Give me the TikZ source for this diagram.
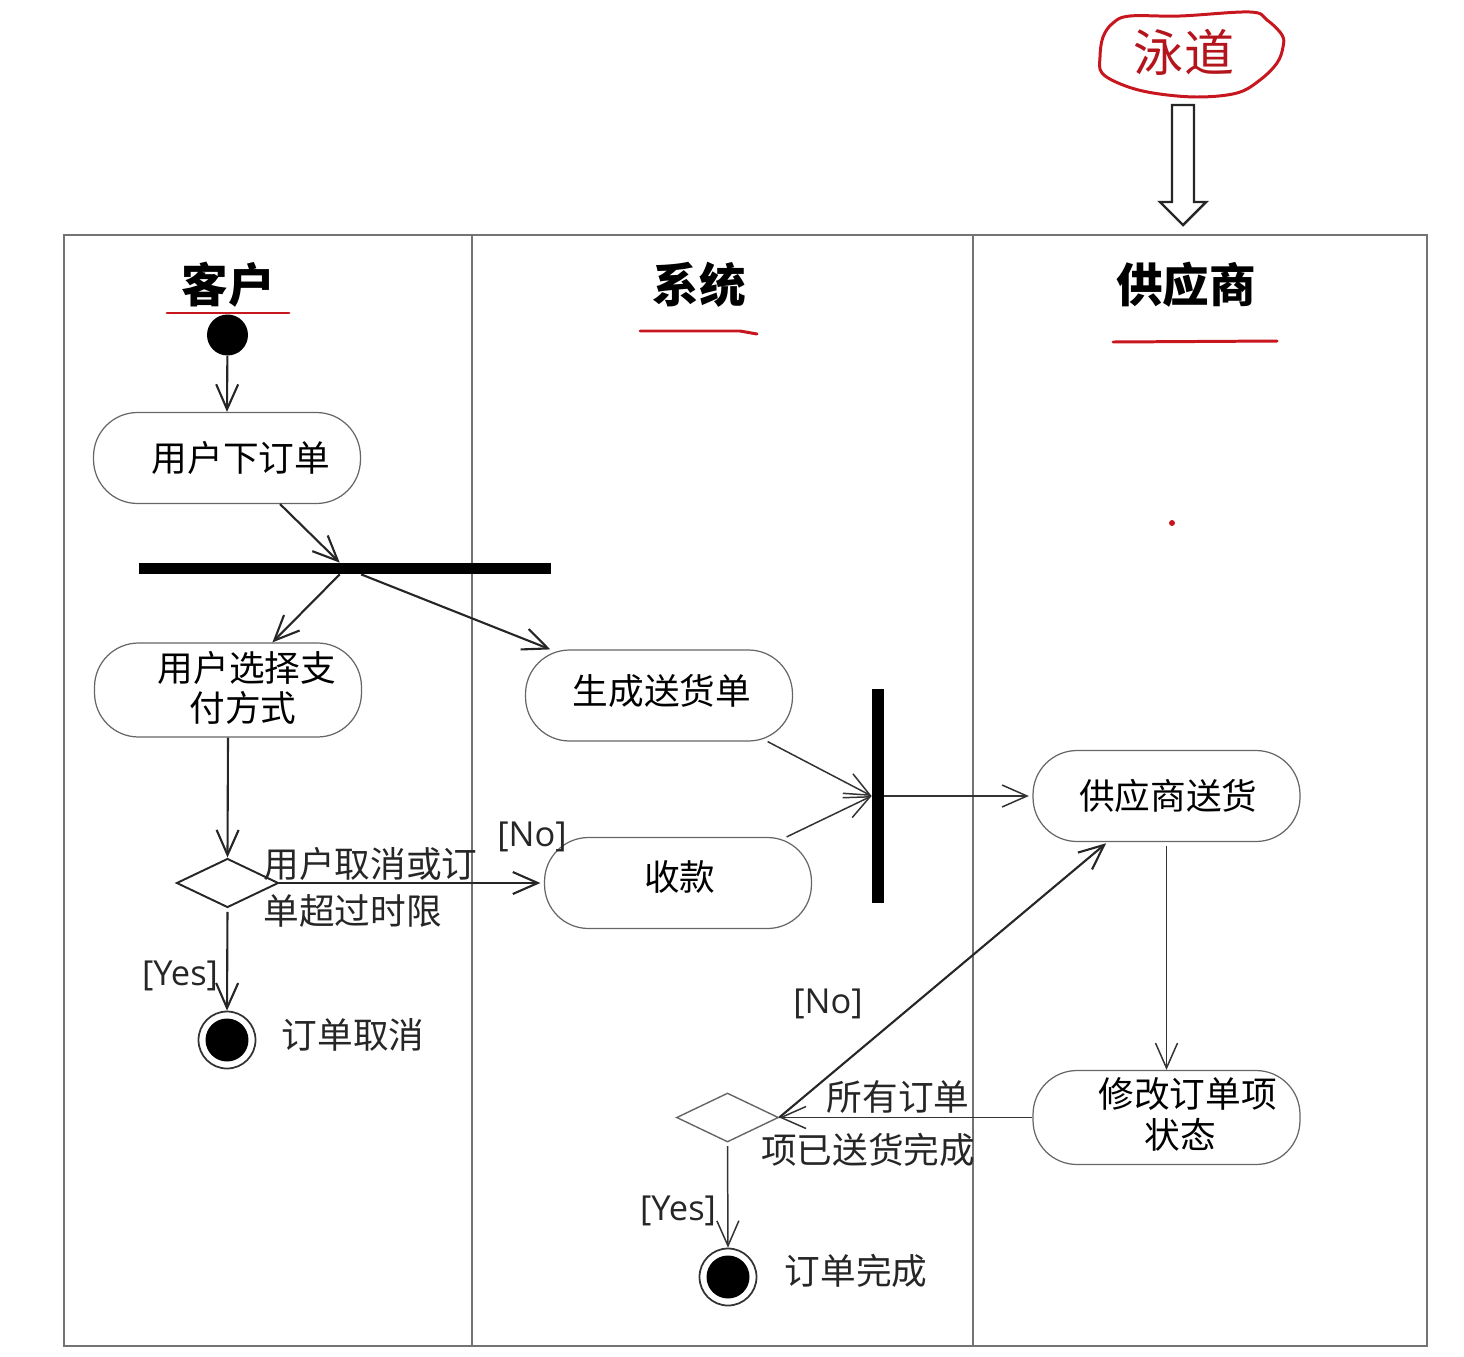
\documentclass[tikz,border=0pt]{standalone}
\usepackage{fontspec}
\setmainfont{Open Sans}
\newfontfamily\cjk{Noto Sans CJK SC}
\usetikzlibrary{arrows.meta,shapes.geometric}
\definecolor{inkred}{HTML}{C8161E}
\tikzset{
  flow/.style={draw=black!85,line width=1.2pt,-{Straight Barb[length=5mm,width=4.4mm]}},
  thinflow/.style={flow,draw=black!80,line width=0.85pt},
  activity/.style={draw=black!60,line width=0.7pt,rounded corners=0.88cm,align=center,
    inner sep=0pt,minimum width=5.34cm,minimum height=1.82cm,
    font=\cjk\fontsize{20.3}{23.2}\selectfont},
  decision/.style={diamond,draw=black!85,line width=1.1pt,inner sep=0pt,
    minimum width=2.04cm,minimum height=0.98cm},
  syncbar/.style={fill=black,inner sep=0pt},
  startdot/.style={circle,fill=black,inner sep=0pt,minimum size=0.82cm},
  enddot/.style={circle,draw=black!80,line width=1pt,fill=white,inner sep=0pt,minimum size=1.14cm,
    path picture={\fill[black] (path picture bounding box.center) circle (0.43cm);}},
  lanehead/.style={inner sep=0pt,font=\cjk\bfseries\fontsize{26.5}{29}\selectfont},
  note/.style={inner sep=0pt,align=left,text=black!85,font=\cjk\fontsize{20.3}{26.6}\selectfont},
  guard/.style={inner sep=0pt,text=black!85,font=\fontsize{19.6}{22}\selectfont},
  redline/.style={draw=inkred,line width=1.7pt,line cap=round}
}
\begin{document}
\begin{tikzpicture}[x=0.02cm,y=-0.02cm]
  \useasboundingbox (0,0) rectangle (1464,1356);
  % Swimlane frame
  \draw[black!55,line width=1.1pt] (64,235) rectangle (1427,1346);
  \draw[black!55,line width=1.1pt] (472,235) -- (472,1346);
  \draw[black!55,line width=1.1pt] (973,235) -- (973,1346);
  % Lane heads
  \node[lanehead] (customer) at (228,285) {客户};
  \node[lanehead] (system) at (699,285) {系统};
  \node[lanehead] (vendor) at (1186,285) {供应商};
  \draw[redline] (167,313) -- (289,313);
  \draw[redline] (640,331) -- (740,331) -- (757,334);
  \draw[redline] (1113,342) -- (1277,341);
  \fill[inkred] (1172,523) circle[radius=1.7pt];
  % Red tag with hollow arrow
  \draw[redline] plot[smooth cycle,tension=0.6] coordinates {(1100,57) (1103,37) (1113,23) (1130,16)
    (1180,16) (1250,12) (1267,20) (1282,35) (1283,47) (1277,63) (1260,80) (1237,93)
    (1197,97) (1153,93) (1123,85) (1102,73)};
  \node[inner sep=0pt,text=inkred!90!black,font=\cjk\fontsize{28.5}{30}\selectfont] (tag) at (1184,52) {泳道};
  \draw[black!85,line width=1.4pt,fill=white] (1172,105) -- (1194,105) -- (1194,202) -- (1206,202)
    -- (1183,225) -- (1160,202) -- (1172,202) -- cycle;
  % Customer lane
  \node[startdot] (start) at (227.5,335) {};
  \node[activity] (order) at (227,458) {\hspace*{16pt}用户下订单};
  \node[syncbar,minimum width=8.24cm,minimum height=0.22cm] (fork) at (345,568.5) {};
  \node[activity,minimum height=1.88cm,text depth=4pt] (pay) at (228,690) {\hspace*{21.5pt}用户选择支\\\hspace*{17pt}付方式};
  \node[decision] (decide) at (227.5,883) {};
  \node[enddot] (cancel) at (227,1040) {};
  \node[note,anchor=west] (timeout) at (263,887) {用户取消或订\\单超过时限};
  \node[guard] (yesA) at (180,976) {[Yes]};
  \node[note] (cancelled) at (353,1035) {订单取消};
  % System lane
  \node[activity,text depth=7pt] (shipnote) at (659,695.5) {\hspace*{3.4pt}生成送货单};
  \node[activity,text depth=8pt] (collect) at (678,883) {\hspace*{2pt}收款};
  \node[syncbar,minimum width=0.24cm,minimum height=4.28cm] (join) at (878,796) {};
  \node[guard] (noA) at (532,837) {[No]};
  \node[decision,draw=black!60,line width=0.8pt] (merge) at (727.5,1117.5) {};
  \node[enddot] (finish) at (728,1277) {};
  \node[guard] (noB) at (828,1004) {[No]};
  \node[guard] (yesB) at (678,1211) {[Yes]};
  \node[note] (allA) at (898,1097) {所有订单};
  \node[note] (allB) at (868,1150) {项已送货完成};
  \node[note] (finished) at (856,1271) {订单完成};
  % Vendor lane
  \node[activity] (supply) at (1166.5,796) {\hspace*{2pt}供应商送货};
  \node[activity,minimum height=1.88cm,text depth=5pt] (modify) at (1166.5,1117.5) {\hspace*{24pt}修改订单项\\\hspace*{16pt}状态};
  % Connectors
  \draw[flow] (start) -- (order.north);
  \draw[flow] (order.-41) -- (fork.132);
  \draw[flow] (fork.228) -- (pay.47);
  \draw[flow] (fork.-20.5) -- (shipnote.157.7);
  \draw[flow] (pay.south) -- (decide.north);
  \draw[flow,shorten >=2pt] (decide.east) -- (collect.west);
  \draw[flow,shorten <=2pt] (decide.south) -- (cancel.north);
  \draw[thinflow] (shipnote.-23.2) -- (join.west);
  \draw[thinflow] (collect.23.5) -- (join.west);
  \draw[thinflow,shorten >=2pt] (join.east) -- (supply.west);
  \draw[thinflow,shorten <=2pt] (supply.south) -- (modify.north);
  \draw[thinflow] (modify.west) -- (merge.east);
  \draw[flow,shorten >=1pt] (merge.east) -- (supply.218.5);
  \draw[thinflow,shorten <=2pt] (merge.south) -- (finish.north);
\end{tikzpicture}
\end{document}
